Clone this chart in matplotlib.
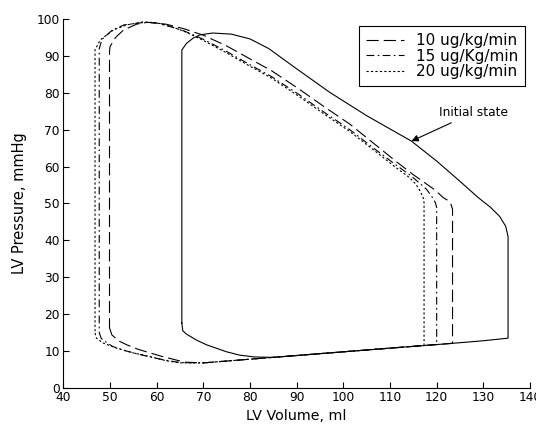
import numpy as np
import matplotlib
matplotlib.use("Agg")
import matplotlib.pyplot as plt

plt.rcParams['font.family'] = ['DejaVu Sans']

# initial state loop (solid)
v_init = [65.4, 65.6, 66.4, 68.5, 70.7, 75, 77.8, 81, 85, 90, 100, 110, 117.3, 123.4, 130, 135.3,
          135.3, 134.8, 133.5, 131.5, 129, 125, 120, 114.6, 105, 97, 90, 84, 80, 76, 72,
          69.3, 67.8, 66.4, 65.4, 65.4]
p_init = [17.6, 15.5, 14.6, 13.0, 11.7, 9.8, 8.9, 8.4, 8.3, 8.8, 9.8, 10.8, 11.5, 12.1, 12.8, 13.5,
          41.0, 43.8, 46.5, 49.0, 51.5, 56.0, 61.5, 66.9, 73.8, 80.2, 86.5, 92.0, 94.6, 95.9, 96.2,
          95.7, 94.8, 93.4, 91.6, 17.6]

# 10 ug/kg/min (dashed)
v_10 = [49.9, 50.4, 51.8, 53.6, 56, 58.6, 61, 63.5, 66, 70, 75, 80, 85, 90, 100, 110, 117.3, 123.4,
        123.4, 123.0, 122.2, 121.4, 119.6, 115, 111.4, 106.5, 101.4, 95.7, 90.3, 84.6, 80, 75, 70,
        66, 62, 58, 55.7, 52.9, 51.2, 50.0, 49.9, 49.9]
p_10 = [16.3, 14.4, 12.8, 11.7, 10.5, 9.5, 8.6, 7.8, 7.0, 6.8, 7.3, 7.8, 8.3, 8.8, 9.8, 10.8, 11.5, 12.1,
        48.5, 50.0, 51.0, 51.6, 53.7, 57.8, 61.3, 66.3, 71.5, 76.4, 81.2, 86.0, 89.2, 92.7, 95.6,
        97.3, 98.6, 99.1, 98.6, 97.0, 95.0, 92.5, 91.0, 16.3]

# 15 ug/kg/min (dash-dot)
v_15 = [47.7, 48.1, 48.5, 50.5, 53, 56, 59, 62, 65, 70, 75, 80, 85, 90, 100, 110, 117.3, 120,
        120, 119.7, 119.0, 117.8, 114.5, 111, 106.5, 101.4, 95.7, 90.3, 84.6, 80, 75, 70, 66, 63,
        60, 57.5, 53, 50.5, 48.3, 47.7, 47.7]
p_15 = [15.0, 13.5, 13.0, 11.3, 10.2, 9.2, 8.3, 7.5, 6.9, 6.8, 7.3, 7.8, 8.3, 8.8, 9.8, 10.8, 11.5, 11.8,
        49.0, 50.3, 51.8, 53.9, 57.5, 60.7, 65.0, 70.0, 74.9, 79.7, 84.4, 87.6, 91.2, 94.5, 96.7, 97.9,
        98.9, 99.1, 98.4, 97.0, 94.5, 92.0, 15.0]

# 20 ug/kg/min (dotted)
v_20 = [46.8, 47.1, 48.5, 51.4, 55, 58.6, 62, 65, 70, 75, 80, 85, 90, 100, 110, 117.3,
        117.3, 117.1, 116.4, 115.5, 114.2, 111, 106.5, 101.4, 95.7, 90.3, 84.6, 80, 75, 70, 66, 63,
        60, 57, 53.6, 50.7, 47.9, 46.8, 46.8]
p_20 = [14.9, 13.5, 12.2, 10.8, 9.5, 8.5, 7.4, 6.8, 6.8, 7.3, 7.8, 8.3, 8.8, 9.8, 10.8, 11.5,
        50.2, 51.6, 53.5, 55.3, 57.0, 60.0, 64.5, 69.5, 74.4, 79.2, 84.0, 87.2, 90.8, 94.2, 96.6, 98.0,
        99.0, 99.2, 98.4, 97.0, 94.3, 91.6, 14.9]

labels = ['10 ug/kg/min', '15 ug/Kg/min', '20 ug/kg/min']

fig = plt.figure(figsize=(5.36, 4.25), dpi=100)
ax = fig.add_axes([0.1181, 0.0871, 0.8707, 0.8682])

lw = 0.8
ax.plot(v_init, p_init, color='k', lw=lw)
l10, = ax.plot(v_10, p_10, color='k', lw=lw, dashes=(11, 4.5), label=labels[0])
l15, = ax.plot(v_15, p_15, color='k', lw=lw, dashes=(7, 3, 1.5, 3), label=labels[1])
l20, = ax.plot(v_20, p_20, color='k', lw=lw, dashes=(2, 2), label=labels[2])

ax.set_xlim(40, 140)
ax.set_ylim(0, 100)
ax.set_xticks(np.arange(40, 141, 10))
ax.set_yticks(np.arange(0, 101, 10))
ax.spines['top'].set_visible(False)
ax.spines['right'].set_visible(False)
ax.spines['left'].set_linewidth(0.8)
ax.spines['bottom'].set_linewidth(0.8)
ax.tick_params(direction='in', length=4, width=0.8, labelsize=8.8, pad=2.5)

ax.set_xlabel('LV Volume, ml', fontsize=10.3, labelpad=3)
ax.set_ylabel('LV Pressure, mmHg', fontsize=10.5, labelpad=7)

leg = ax.legend(handles=[l10, l15, l20], loc='upper right', bbox_to_anchor=(0.99, 0.981),
                borderaxespad=0, fancybox=False, framealpha=1, edgecolor='k',
                fontsize=11, handlelength=2.5, handletextpad=0.8, labelspacing=0.05,
                borderpad=0.45)
leg.get_frame().set_linewidth(0.8)

ax.annotate('Initial state', xy=(114.6, 66.9), xytext=(120.6, 74.7),
            fontsize=8.8, va='center', ha='left',
            arrowprops=dict(arrowstyle='-|>', color='k', lw=0.8, mutation_scale=10,
                            shrinkA=2, shrinkB=0))

fig.savefig('out.png', dpi=100)
